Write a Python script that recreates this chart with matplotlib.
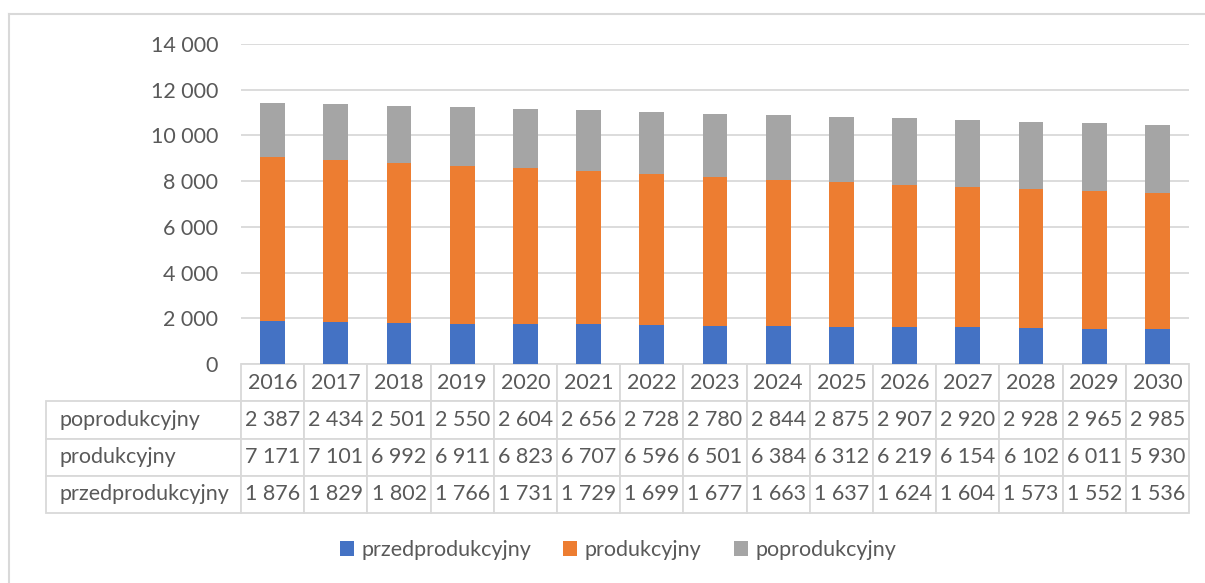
import matplotlib
matplotlib.use("Agg")
import matplotlib.pyplot as plt
import numpy as np
from matplotlib.patches import Patch
from matplotlib.lines import Line2D
from matplotlib.ticker import FuncFormatter

plt.rcParams['font.family'] = ['Lato', 'DejaVu Sans']

years = ['2016', '2017', '2018', '2019', '2020', '2021', '2022', '2023',
         '2024', '2025', '2026', '2027', '2028', '2029', '2030']
przedprodukcyjny = [1876, 1829, 1802, 1766, 1731, 1729, 1699, 1677, 1663,
                    1637, 1624, 1604, 1573, 1552, 1536]
produkcyjny = [7171, 7101, 6992, 6911, 6823, 6707, 6596, 6501, 6384,
               6312, 6219, 6154, 6102, 6011, 5930]
poprodukcyjny = [2387, 2434, 2501, 2550, 2604, 2656, 2728, 2780, 2844,
                 2875, 2907, 2920, 2928, 2965, 2985]
series_names = ['przedprodukcyjny', 'produkcyjny', 'poprodukcyjny']
colors = ['#4472C4', '#ED7D31', '#A5A5A5']
txt = '#595959'
grid = '#D9D9D9'
fs = 15.5

def fmt(v):
    return '{:,}'.format(int(v)).replace(',', ' ')

W, H = 1205, 583
fig = plt.figure(figsize=(W / 100, H / 100), dpi=100)
ax = fig.add_axes([241 / W, 1 - 364 / H, 948 / W, 320 / H])

x = np.arange(len(years))
a = np.array(przedprodukcyjny)
b = np.array(produkcyjny)
c = np.array(poprodukcyjny)
ax.bar(x, a, width=0.39, color=colors[0], zorder=3)
ax.bar(x, b, width=0.39, bottom=a, color=colors[1], zorder=3)
ax.bar(x, c, width=0.39, bottom=a + b, color=colors[2], zorder=3)

ax.set_xlim(-0.5, len(years) - 0.5)
ax.set_ylim(0, 14000)
ax.set_yticks(range(0, 14001, 2000))
ax.yaxis.set_major_formatter(FuncFormatter(lambda v, p: fmt(v)))
ax.tick_params(axis='y', length=0, pad=16.5, labelsize=fs, labelcolor=txt)
ax.set_xticks([])
ax.grid(axis='y', color=grid, lw=1.3, zorder=0)
for s in ax.spines.values():
    s.set_visible(False)

# data table below the plot
cell_text = [[''] + years]
for name, vals in zip(series_names[::-1], [poprodukcyjny, produkcyjny, przedprodukcyjny]):
    cell_text.append([name] + [fmt(v) for v in vals])
lab_w = 195
col_w = 948 / len(years)
widths = [lab_w] + [col_w] * len(years)
tot = sum(widths)
tbl = ax.table(cellText=cell_text, colWidths=[w / tot for w in widths],
               cellLoc='center',
               bbox=[-lab_w / 948, -149 / 320, tot / 948, 149 / 320])
tbl.auto_set_font_size(False)
tbl.set_fontsize(fs)
for (r, cc), cell in tbl.get_celld().items():
    cell.set_edgecolor(grid)
    cell.set_linewidth(1.3)
    cell.get_text().set_color(txt)
    if cc == 0:
        cell.get_text().set_ha('left')
        cell._loc = 'left'
        cell.PAD = 0.07
        if r == 0:
            cell.visible_edges = 'open'

handles = [Patch(facecolor=col, edgecolor='none') for col in colors]
fig.legend(handles, series_names, loc='center', bbox_to_anchor=(618 / W, 1 - 550 / H),
           ncol=3, frameon=False, fontsize=fs, labelcolor=txt,
           handlelength=0.65, handleheight=0.65, handletextpad=0.35, columnspacing=1.5)

# chart border (top and left visible)
fig.add_artist(Line2D([8.5 / W, 1.0], [1 - 13.5 / H] * 2, color=grid, lw=1.5))
fig.add_artist(Line2D([8.5 / W] * 2, [0, 1 - 13.5 / H], color=grid, lw=1.5))

fig.savefig('out.png', dpi=100, facecolor='white')
